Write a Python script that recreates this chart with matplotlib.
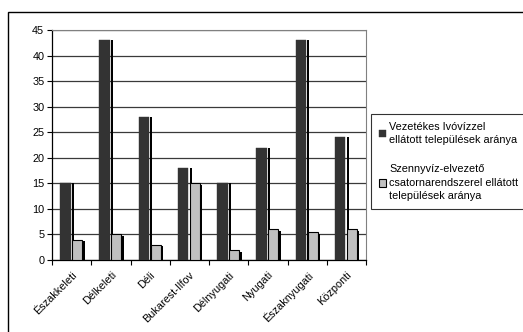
import numpy as np
import matplotlib
matplotlib.use('Agg')
import matplotlib.pyplot as plt
from matplotlib.patches import Rectangle

plt.rcParams['font.family'] = ['Liberation Sans', 'DejaVu Sans']

# Data
regions = ['Északkeleti', 'Délkeleti', 'Déli', 'Bukarest-Ilfov',
           'Délnyugati', 'Nyugati', 'Északnyugati', 'Központi']
water = [15, 43, 28, 18, 15, 22, 43, 24]
sewer = [4, 5, 3, 15, 2, 6, 5.5, 6]
labels = ['Vezetékes Ivóvízzel\nellátott települések aránya',
          'Szennyvíz-elvezető\ncsatornarendszerel ellátott\ntelepülések aránya']

W, H = 523, 332
FS = 7.8
fig = plt.figure(figsize=(W / 100, H / 100), dpi=100)
fig.patch.set_facecolor('white')

# outer chart frame (runs off the right and bottom edges)
fig.patches.append(Rectangle((8 / W, -0.05), 1.1, 1 - 12 / H + 0.05,
                             transform=fig.transFigure, fill=False,
                             edgecolor='black', linewidth=1.0))

ax = fig.add_axes([52 / W, 1 - 260 / H, 314 / W, 230 / H])

x = np.arange(len(regions))
px = 1 / 39.25  # one pixel in data units along x

# dark series with its black shadow
ax.bar(x - 0.005 + px * 0.5, water, width=2 * px, align='edge', color='black', zorder=2)
b1 = ax.bar(x - 0.295, water, width=0.272, align='edge', color='#333333',
            edgecolor='#333333', linewidth=0.3, zorder=3, label=labels[0])

# light series with its black shadow
ax.bar(x + 0.27, np.array(sewer) - 0.35, width=2.5 * px, align='edge', color='black', zorder=4)
b2 = ax.bar(x + 0.01, sewer, width=0.26, align='edge', color='#c0c0c0',
            edgecolor='black', linewidth=0.8, zorder=5, label=labels[1])

ax.set_xlim(-0.5, len(regions) - 0.5)
ax.set_ylim(0, 45)
ax.set_yticks(np.arange(0, 46, 5))
ax.yaxis.grid(True, color='#3a3a3a', linewidth=0.9)
ax.set_axisbelow(True)

ax.set_xticks(np.arange(-0.5, len(regions), 1.0))
ax.set_xticklabels([])
ax.set_xticks(x, minor=True)
ax.set_xticklabels(regions, minor=True, rotation=45, ha='right', va='top',
                   rotation_mode='anchor', fontsize=FS)
ax.tick_params(axis='x', which='minor', length=0, pad=7)
ax.tick_params(axis='x', which='major', length=3.5, width=0.8, direction='out')
ax.tick_params(axis='y', length=3.5, width=0.8, direction='out', labelsize=FS, pad=2)

for side in ['top', 'right']:
    ax.spines[side].set_color('#808080')
    ax.spines[side].set_linewidth(0.8)
for side in ['left', 'bottom']:
    ax.spines[side].set_color('black')
    ax.spines[side].set_linewidth(0.9)

leg = fig.legend(handles=[b1, b2], labels=labels, loc='upper left',
                 bbox_to_anchor=(371 / W, 1 - 209 / H, 170 / W, 95 / H),
                 mode='expand', fontsize=FS,
                 frameon=True, fancybox=False, handlelength=0.7,
                 handleheight=0.7, handletextpad=0.3, labelspacing=1.75,
                 borderpad=0.7, borderaxespad=0)
for t in leg.get_texts():
    t.set_linespacing(1.45)
leg.get_frame().set_edgecolor('black')
leg.get_frame().set_linewidth(0.8)

fig.savefig('out.png', dpi=100)
